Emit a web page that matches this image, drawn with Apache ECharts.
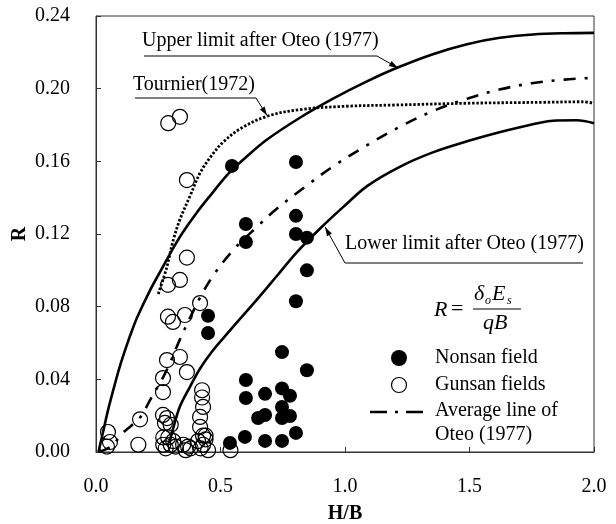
<!DOCTYPE html>
<html>
<head>
<meta charset="utf-8">
<script src="https://cdn.jsdelivr.net/npm/echarts@6/dist/echarts.min.js"></script>
<style>
  html, body { margin: 0; padding: 0; background: #fff; }
  #chart { width: 616px; height: 524px; }
</style>
</head>
<body>
<div id="chart"></div>
<script>
// Settlement ratio R against H/B: field data and reference curves
const xTicks = [0.0, 0.5, 1.0, 1.5, 2.0];
const yTicks = [0.00, 0.04, 0.08, 0.12, 0.16, 0.20, 0.24];

const nonsanField = [
  [0.546, 0.1575], [0.803, 0.1596], [0.602, 0.1255], [0.602, 0.1156],
  [0.803, 0.130], [0.803, 0.120], [0.847, 0.118], [0.847, 0.100],
  [0.803, 0.083], [0.45, 0.075], [0.45, 0.0655], [0.747, 0.055],
  [0.847, 0.045], [0.602, 0.0396], [0.602, 0.0297], [0.679, 0.032],
  [0.747, 0.035], [0.779, 0.031], [0.747, 0.0248], [0.779, 0.0198],
  [0.679, 0.0204], [0.651, 0.0187], [0.747, 0.0187], [0.598, 0.0083],
  [0.679, 0.0061], [0.747, 0.0061], [0.803, 0.0105], [0.538, 0.005]
];

const gunsanFields = [
  [0.29, 0.181], [0.337, 0.1845], [0.365, 0.1497], [0.365, 0.107],
  [0.337, 0.0947], [0.289, 0.092], [0.418, 0.082], [0.289, 0.0745],
  [0.309, 0.0716], [0.357, 0.0754], [0.285, 0.0506], [0.337, 0.0523],
  [0.365, 0.044], [0.269, 0.0407], [0.269, 0.033], [0.426, 0.034],
  [0.426, 0.030], [0.43, 0.0248], [0.418, 0.0193], [0.418, 0.0138],
  [0.43, 0.009], [0.269, 0.0204], [0.285, 0.0187], [0.277, 0.016],
  [0.30, 0.015], [0.27, 0.008], [0.29, 0.008], [0.27, 0.004],
  [0.30, 0.004], [0.28, 0.002], [0.31, 0.006], [0.32, 0.003],
  [0.35, 0.004], [0.37, 0.003], [0.36, 0.001], [0.38, 0.002],
  [0.41, 0.006], [0.43, 0.004], [0.44, 0.007], [0.42, 0.002],
  [0.45, 0.001], [0.44, 0.009], [0.177, 0.018], [0.17, 0.004],
  [0.048, 0.011], [0.056, 0.0055], [0.044, 0.003], [0.54, 0.001]
];

const upperOteo = [
  [0.01, 0.0], [0.03, 0.012], [0.05, 0.024], [0.075, 0.037], [0.10, 0.049],
  [0.124, 0.059], [0.145, 0.067], [0.165, 0.074], [0.217, 0.089], [0.269, 0.102],
  [0.309, 0.112], [0.349, 0.121], [0.406, 0.132], [0.458, 0.141], [0.53, 0.153],
  [0.60, 0.162], [0.687, 0.172], [0.819, 0.184], [0.952, 0.1945], [1.088, 0.204],
  [1.209, 0.2115], [1.353, 0.219], [1.49, 0.2245], [1.622, 0.228], [1.755, 0.2298],
  [1.88, 0.2305], [2.0, 0.2307]
];

const lowerOteo = [
  [0.295, 0.005], [0.31, 0.013], [0.337, 0.025], [0.378, 0.036], [0.418, 0.046],
  [0.47, 0.056], [0.526, 0.065], [0.58, 0.0735], [0.647, 0.084], [0.727, 0.097],
  [0.807, 0.110], [0.90, 0.123], [0.99, 0.1345], [1.09, 0.1465], [1.22, 0.157],
  [1.35, 0.1648], [1.49, 0.171], [1.62, 0.176], [1.75, 0.1803], [1.85, 0.1825],
  [1.93, 0.1826], [2.0, 0.181]
];

const averageOteo = [
  [0.01, 0.0], [0.06, 0.003], [0.108, 0.0105], [0.177, 0.019], [0.217, 0.0286],
  [0.269, 0.041], [0.297, 0.049], [0.337, 0.062], [0.378, 0.074], [0.418, 0.085],
  [0.47, 0.097], [0.55, 0.111], [0.647, 0.124], [0.727, 0.134], [0.84, 0.146],
  [0.95, 0.157], [1.09, 0.169], [1.22, 0.179], [1.35, 0.1875], [1.49, 0.1945],
  [1.62, 0.1995], [1.75, 0.203], [1.88, 0.205], [2.0, 0.206]
];

const tournier = [
  [0.25, 0.087], [0.285, 0.102], [0.309, 0.116], [0.337, 0.128], [0.378, 0.141],
  [0.418, 0.1536], [0.466, 0.1635], [0.51, 0.1705], [0.58, 0.178], [0.687, 0.1848],
  [0.82, 0.1885], [1.0, 0.1903], [1.2, 0.191], [1.5, 0.192], [1.8, 0.1925],
  [1.95, 0.1928], [2.0, 0.192]
];

// Annotation labels: text, anchor of the text, and the curve point the arrow hits
const notes = [
  { text: 'Upper limit after Oteo (1977)', textX: 142, textY: 41, lineY: 56, lineEnd: 377, tip: [1.213, 0.2114] },
  { text: 'Tournier(1972)', textX: 133, textY: 85, lineY: 98, lineEnd: 256, tip: [0.687, 0.1852] },
  { text: 'Lower limit after Oteo (1977)', textX: 345, textY: 244, lineY: 263, lineEnd: 583, tip: [0.92, 0.1239], lineStart: 345, leftArrow: true }
];

const FONT = '"Liberation Serif", "Times New Roman", serif';
const chart = echarts.init(document.getElementById('chart'), null, { renderer: 'canvas' });

const option = {
  backgroundColor: '#fff',
  animation: false,
  grid: { left: 96, right: 22, top: 16, bottom: 72, containLabel: false, outerBoundsMode: 'none',
    show: true, borderColor: '#333', borderWidth: 1, backgroundColor: 'transparent' },
  xAxis: {
    type: 'value', min: 0, max: 2, interval: 0.5,
    name: 'H/B', nameLocation: 'middle', nameGap: 52, nameMoveOverlap: false,
    nameTextStyle: { fontFamily: FONT, fontWeight: 'bold', fontSize: 20, color: '#000' },
    axisLine: { lineStyle: { color: '#333', width: 1 } },
    axisTick: { inside: true, length: 5, lineStyle: { color: '#333' } },
    axisLabel: { fontFamily: FONT, fontSize: 20, color: '#000', margin: 25, formatter: v => v.toFixed(1) },
    splitLine: { show: false }
  },
  yAxis: {
    type: 'value', min: 0, max: 0.24, interval: 0.04,
    name: 'R', nameLocation: 'middle', nameGap: 66, nameMoveOverlap: false,
    nameTextStyle: { fontFamily: FONT, fontWeight: 'bold', fontSize: 20, color: '#000' },
    axisLine: { lineStyle: { color: '#333', width: 1 } },
    axisTick: { inside: true, length: 5, lineStyle: { color: '#333' } },
    axisLabel: { fontFamily: FONT, fontSize: 20, color: '#000', margin: 26, formatter: v => v.toFixed(2) },
    splitLine: { show: false }
  },
  series: [
    { name: 'Upper limit after Oteo (1977)', type: 'line', data: upperOteo, smooth: 0.35, symbol: 'none',
      lineStyle: { color: '#000', width: 2.6 }, z: 2 },
    { name: 'Lower limit after Oteo (1977)', type: 'line', data: lowerOteo, smooth: 0.35, symbol: 'none',
      lineStyle: { color: '#000', width: 2.6 }, z: 2 },
    { name: 'Average line of Oteo (1977)', type: 'line', data: averageOteo, smooth: 0.35, symbol: 'none',
      lineStyle: { color: '#000', width: 2.6, type: [12, 9, 3, 9] }, z: 2 },
    { name: 'Tournier(1972)', type: 'line', data: tournier, smooth: 0.35, symbol: 'none',
      lineStyle: { color: '#000', width: 2.8, type: [2.4, 1.8] }, z: 2 },
    { name: 'Gunsan fields', type: 'scatter', data: gunsanFields, symbol: 'circle', symbolSize: 15,
      itemStyle: { color: 'rgba(255,255,255,0)', borderColor: '#000', borderWidth: 1.2, opacity: 1 }, z: 3 },
    { name: 'Nonsan field', type: 'scatter', data: nonsanField, symbol: 'circle', symbolSize: 14,
      itemStyle: { color: '#000', borderColor: '#000', borderWidth: 0, opacity: 1 }, z: 4 }
  ]
};
chart.setOption(option);

// Arrowhead triangle ending at a curve point
function arrowHead(from, to, len, half) {
  const dx = to[0] - from[0], dy = to[1] - from[1];
  const d = Math.hypot(dx, dy) || 1;
  const ux = dx / d, uy = dy / d;
  const bx = to[0] - ux * len, by = to[1] - uy * len;
  return [[to[0], to[1]], [bx - uy * half, by + ux * half], [bx + uy * half, by - ux * half]];
}

const graphics = [];
notes.forEach(n => {
  const tip = chart.convertToPixel({ gridIndex: 0 }, n.tip);
  graphics.push({ type: 'text', x: n.textX, y: n.textY, z: 10,
    style: { text: n.text, font: '20px ' + FONT, fill: '#000', verticalAlign: 'middle' } });
  const pts = n.leftArrow
    ? [[n.lineEnd, n.lineY], [n.lineStart, n.lineY], tip]
    : [[n.textX + 2, n.lineY], [n.lineEnd, n.lineY], tip];
  graphics.push({ type: 'polyline', z: 10, shape: { points: pts }, style: { stroke: '#000', lineWidth: 1, fill: null } });
  graphics.push({ type: 'polygon', z: 10, shape: { points: arrowHead(pts[1], tip, 9, 2.8) }, style: { fill: '#000' } });
});

// Formula R = δo Es / qB
const italic = 'italic 22px ' + FONT;
const small = 'italic 12px ' + FONT;
graphics.push(
  { type: 'text', x: 434, y: 310, z: 10, style: { text: 'R', font: italic, fill: '#000', verticalAlign: 'middle' } },
  { type: 'text', x: 451, y: 309, z: 10, style: { text: '=', font: '22px ' + FONT, fill: '#000', verticalAlign: 'middle' } },
  { type: 'line', z: 10, shape: { x1: 473, y1: 309, x2: 521, y2: 309 }, style: { stroke: '#000', lineWidth: 1 } },
  { type: 'text', x: 474, y: 294, z: 10, style: { text: 'δ', font: italic, fill: '#000', verticalAlign: 'middle' } },
  { type: 'text', x: 485, y: 301, z: 10, style: { text: 'o', font: small, fill: '#000', verticalAlign: 'middle' } },
  { type: 'text', x: 492, y: 294, z: 10, style: { text: 'E', font: italic, fill: '#000', verticalAlign: 'middle' } },
  { type: 'text', x: 507, y: 301, z: 10, style: { text: 's', font: small, fill: '#000', verticalAlign: 'middle' } },
  { type: 'text', x: 483, y: 323, z: 10, style: { text: 'qB', font: italic, fill: '#000', verticalAlign: 'middle' } }
);

// Legend
const legendFont = '20px ' + FONT;
graphics.push(
  { type: 'circle', z: 10, shape: { cx: 399, cy: 358, r: 8 }, style: { fill: '#000' } },
  { type: 'text', x: 435, y: 358, z: 10, style: { text: 'Nonsan field', font: legendFont, fill: '#000', verticalAlign: 'middle' } },
  { type: 'circle', z: 10, shape: { cx: 399, cy: 385, r: 7.5 }, style: { fill: '#fff', stroke: '#000', lineWidth: 1.2 } },
  { type: 'text', x: 435, y: 385, z: 10, style: { text: 'Gunsan fields', font: legendFont, fill: '#000', verticalAlign: 'middle' } },
  { type: 'line', z: 10, shape: { x1: 370, y1: 412, x2: 427, y2: 412 }, style: { stroke: '#000', lineWidth: 2.6, lineDash: [17, 8, 3, 8] } },
  { type: 'text', x: 435, y: 411, z: 10, style: { text: 'Average line of', font: legendFont, fill: '#000', verticalAlign: 'middle' } },
  { type: 'text', x: 435, y: 435, z: 10, style: { text: 'Oteo (1977)', font: legendFont, fill: '#000', verticalAlign: 'middle' } }
);

chart.setOption({ graphic: graphics });
</script>
</body>
</html>
